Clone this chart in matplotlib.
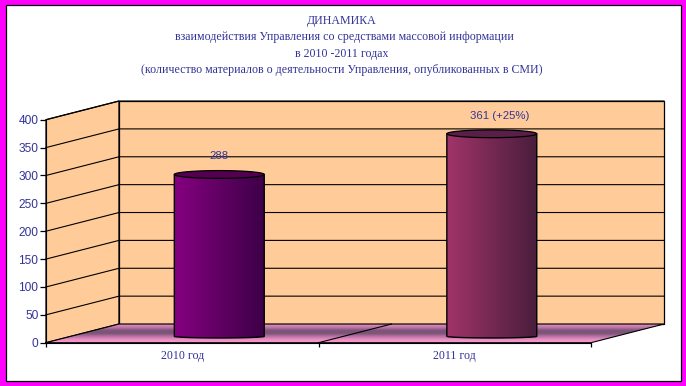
import matplotlib
matplotlib.use('Agg')
import matplotlib.pyplot as plt
import numpy as np
from matplotlib.colors import LinearSegmentedColormap
from matplotlib.patches import PathPatch, Polygon, Rectangle
from matplotlib.path import Path

# Chart data
categories = ['2010 год', '2011 год']
values = [288, 361]
value_labels = ['288', '361 (+25%)']
y_ticks = [0, 50, 100, 150, 200, 250, 300, 350, 400]
title_lines = [
    'ДИНАМИКА',
    'взаимодействия Управления со средствами массовой информации',
    'в 2010 -2011 годах',
    '(количество материалов о деятельности Управления, опубликованных в СМИ)',
]

# Style
text_color = '#333399'
wall_color = '#FFCC99'
bar_colors = [('#85007F', '#3E0049'), ('#A03468', '#4A1E3C')]
top_colors = ['#52004F', '#5A1F48']
floor_colors = ['#E88EC4', '#BC76A6', '#7E5479', '#7E5479', '#BC76A6', '#EC90C6', '#FF99CC']

# 3D depth of the box in data units, bar size in data units
depth_x = 73 / 272.5
depth_y = 33.5
bar_w = 0.33
ell_top = 7.0
ell_bottom = 3.0
bar_base = 11.5  # height of the bar foot above the front floor edge

fig = plt.figure(figsize=(6.86, 3.86), dpi=100, facecolor='white')
fig.patches.append(Rectangle((0, 0), 1, 1, transform=fig.transFigure, facecolor='#FF00FF',
                             edgecolor='none', zorder=-3))
fig.patches.append(Rectangle((5.5 / 686, 5 / 386), 675 / 686, 376 / 386, transform=fig.transFigure,
                             facecolor='white', edgecolor='black', linewidth=0.9, zorder=-2))

ax = fig.add_axes([46 / 686, 43.3 / 386, 545 / 686, 223 / 386])
ax.patch.set_visible(False)

# Walls
wall_kw = dict(facecolor=wall_color, edgecolor='black', linewidth=0.9, clip_on=False, zorder=1)
ax.add_patch(Polygon([(0, 0), (depth_x, depth_y), (depth_x, 400 + depth_y), (0, 400)], **wall_kw))
ax.add_patch(Rectangle((depth_x, depth_y), 2, 400, **wall_kw))

# Grid lines on both walls
for v in y_ticks[1:]:
    ax.plot([0, depth_x, 2 + depth_x], [v, v + depth_y, v + depth_y], color='black', lw=0.8,
            clip_on=False, zorder=2, solid_joinstyle='miter')

# Floor with a vertical gradient
floor = Polygon([(0, 0), (depth_x, depth_y), (2 + depth_x, depth_y), (2, 0)], facecolor='none',
                edgecolor='none', clip_on=False, zorder=3)
ax.add_patch(floor)
floor_cmap = LinearSegmentedColormap.from_list('floor', floor_colors)
im = ax.imshow(np.linspace(0, 1, 64).reshape(-1, 1), cmap=floor_cmap, aspect='auto', origin='upper',
               extent=(0, 2 + depth_x, 0, depth_y), zorder=3)
im.set_clip_box(fig.bbox)
im.set_clip_path(floor)
ax.plot([0, depth_x, 2 + depth_x, 2, 0], [0, depth_y, depth_y, 0, 0], color='black', lw=0.8,
        clip_on=False, zorder=4)
ax.plot([1, 1 + depth_x], [0, depth_y], color='black', lw=0.8, clip_on=False, zorder=4)

# Cylinders
t_low = np.linspace(np.pi, 2 * np.pi, 40)
t_all = np.linspace(0, 2 * np.pi, 80)
for i, v in enumerate(values):
    cx = i + 0.502 + depth_x / 2
    top = v + depth_y / 2 - 3
    hw = bar_w / 2
    low_x = cx + hw * np.cos(t_low)
    low_y = bar_base + ell_bottom * np.sin(t_low)
    side = np.column_stack([np.r_[low_x, cx + hw, cx - hw], np.r_[low_y, top, top]])
    body = Polygon(side, closed=True, facecolor='none', edgecolor='black', linewidth=1.0,
                   clip_on=False, zorder=6)
    ax.add_patch(body)
    cmap = LinearSegmentedColormap.from_list(f'bar{i}', bar_colors[i])
    grad = ax.imshow(np.linspace(0, 1, 64).reshape(1, -1), cmap=cmap, aspect='auto',
                     extent=(cx - hw, cx + hw, bar_base - ell_bottom, top), zorder=5)
    grad.set_clip_box(fig.bbox)
    grad.set_clip_path(body)
    cap = Path(np.column_stack([cx + hw * np.cos(t_all), top + ell_top * np.sin(t_all)]), closed=True)
    ax.add_patch(PathPatch(cap, facecolor=top_colors[i], edgecolor='black', linewidth=0.9,
                           clip_on=False, zorder=7))

# Value labels above the cylinders
ax.text(0.5 + depth_x / 2, values[0] + depth_y / 2 + 30, value_labels[0], ha='center', va='center',
        color=text_color, family='Liberation Sans', fontsize=8.2, zorder=8)
ax.text(1.5 + depth_x / 2 + 0.03, values[1] + depth_y / 2 + 28, value_labels[1], ha='center', va='center',
        color=text_color, family='Liberation Sans', fontsize=8.2, zorder=8, clip_on=False)

ax.set_xlim(0, 2)
ax.set_ylim(0, 400)
ax.set_yticks(y_ticks)
ax.set_xticks([0, 1, 2])
ax.set_xticklabels([])
ax.set_xticks([0.5, 1.5], labels=categories, minor=True)
ax.tick_params(axis='x', which='major', length=3, width=0.9, color='black')
ax.tick_params(axis='x', which='minor', length=0, pad=5, labelsize=8.6, labelcolor=text_color)
ax.tick_params(axis='y', length=4, width=0.9, color='black', pad=1.5, labelsize=8.6, labelcolor=text_color)
for lab in ax.get_xticklabels(minor=True):
    lab.set_family('Liberation Serif')
for lab in ax.get_yticklabels():
    lab.set_family('Liberation Sans')
for name in ['top', 'right']:
    ax.spines[name].set_visible(False)
for name in ['left', 'bottom']:
    ax.spines[name].set_linewidth(0.8)
    ax.spines[name].set_zorder(4)

# Title
for line, x_px, y_px in zip(title_lines, [342, 344, 342, 342], [21, 37, 54, 70]):
    fig.text(x_px / 686, 1 - y_px / 386, line, ha='center', va='center', color=text_color,
             family='Liberation Serif', fontsize=8.6)

fig.savefig('out.png', dpi=100, facecolor=fig.get_facecolor())
